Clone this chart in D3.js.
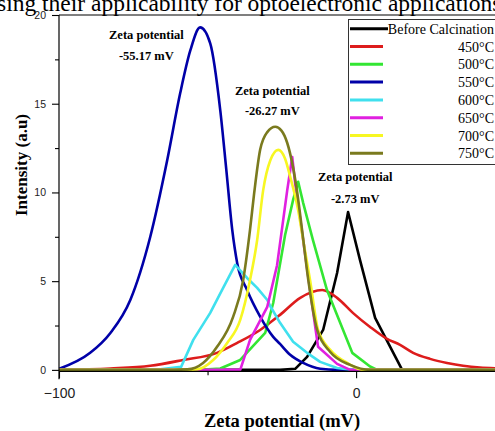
<!DOCTYPE html>
<html>
<head>
<meta charset="utf-8">
<script src="https://cdn.jsdelivr.net/npm/d3@7"></script>
<style>
  html, body { margin: 0; padding: 0; background: #fff; overflow: hidden; }
  svg { display: block; }
</style>
</head>
<body>
<div id="chart"></div>
<script>
// series, [zeta potential (mV), intensity (a.u)]
var seriesNames = ['Before Calcination', '450°C', '500°C', '550°C', '600°C', '650°C', '700°C', '750°C'];
var colors = ['#000000', '#dd1c1c', '#33e633', '#0000a8', '#40e0ee', '#e020e0', '#f7f722', '#7a7a1e'];
var smooth = [false, true, false, true, false, false, true, true];

var before = [[-100, 0], [-39, 0], [-25.6, 0], [-20.5, 0.06], [-16.5, 0.73], [-11.1, 2.25], [-6.4, 5.46],
  [-2.7, 8.9], [1.3, 6.2], [6.4, 2.93], [15.5, 0], [47, 0]];
var c450 = [[-100, 0], [-82.7, 0.08], [-69.3, 0.23], [-58.2, 0.56], [-46.8, 0.96], [-40, 1.52], [-32.3, 2.25],
  [-25.6, 3.1], [-18.8, 4.06], [-11.4, 4.5], [-6.4, 4.06], [-1, 3.2], [4.7, 2.42], [10.4, 1.75], [14.8, 1.41],
  [19.2, 0.96], [24.9, 0.62], [30.6, 0.39], [36, 0.23], [41.7, 0.13], [47, 0.09]];
var c500 = [[-100, 0], [-52.5, 0], [-45.7, 0.08], [-39, 0.56], [-30.6, 2.08], [-27.9, 3.77], [-23.9, 7.6],
  [-21.2, 9.58], [-19.5, 10.6], [-17.8, 9.4], [-14.5, 7.3], [-9.8, 4.5], [-1.3, 0.96], [4.7, 0.19], [7.1, 0], [47, 0]];
var c550 = [[-99.9, 0.06], [-89.5, 0.96], [-82.7, 2.08], [-76, 3.94], [-69.3, 7.49], [-63.6, 11.8], [-59.2, 15.6],
  [-55.8, 18], [-52.5, 19.3], [-49.1, 18.4], [-45.7, 14.6], [-43.7, 11.3], [-41.7, 7.9], [-40, 6], [-36.7, 4.5],
  [-32.3, 3], [-27.9, 1.86], [-25.6, 1.46], [-22.2, 0.85], [-17.8, 0.39], [-12.1, 0.06], [-6.4, 0], [47, 0]];
var c600 = [[-100, 0], [-72.7, 0], [-65.9, 0.03], [-58.9, 0.17], [-54.8, 1.69], [-49.1, 3.21], [-45.1, 4.51],
  [-40.7, 5.92], [-36.7, 5.18], [-33.3, 4.62], [-29.9, 3.94], [-28.9, 3.6], [-25.6, 2.65], [-21.2, 1.58],
  [-16.5, 0.96], [-12.1, 0.45], [-6.4, 0.11], [-1, 0], [47, 0]];
var c650 = [[-100, 0], [-52.5, 0], [-39, 0], [-35.7, 1.69], [-29.9, 3.55], [-26.6, 5.9], [-23.2, 10.1],
  [-21.5, 12], [-20.5, 10.5], [-17.8, 7.3], [-15.5, 4.5], [-12.8, 1.3], [-6.4, 0.34], [-2, 0], [47, 0]];
var c700 = [[-100, 0], [-59.2, 0], [-53.5, 0.03], [-48.1, 0.56], [-43.4, 1.52], [-39, 2.82], [-35.7, 5.07],
  [-33.3, 7.32], [-31.3, 10.1], [-28.9, 11.8], [-26.2, 12.4], [-23.9, 11.9], [-22.2, 10.9], [-19.5, 9],
  [-17.8, 7.3], [-15.5, 5.07], [-12.8, 2.25], [-8.7, 1.13], [-3, 0.39], [2.4, 0], [47, 0]];
var c750 = [[-100, 0], [-65.9, 0], [-56.8, 0.03], [-51.5, 0.39], [-46.8, 1.3], [-41.4, 2.99], [-38, 5.07],
  [-35.7, 7.9], [-34.3, 9.97], [-32.3, 12.4], [-29.9, 13.4], [-27.2, 13.7], [-25.2, 13.5], [-23.2, 12.8],
  [-19.8, 9.97], [-18.2, 7.9], [-16.1, 5.07], [-13.1, 2.25], [-8.7, 1.01], [-2, 0.28], [4.7, 0], [47, 0]];
var allSeries = [before, c450, c500, c550, c600, c650, c700, c750];

var yTicks = [0, 5, 10, 15, 20];
var yMinor = [2.5, 7.5, 12.5, 17.5];
var xTicks = [-100, 0];
var xMinor = [-50];

// annotations: [x, y] in data units
var notes = [
  { lines: ['Zeta potential', '-55.17 mV'], x: -70.6, y: [18.62, 17.45] },
  { lines: ['Zeta potential', '-26.27 mV'], x: -28.2, y: [15.5, 14.35] },
  { lines: ['Zeta potential', '-2.73 mV'], x: -0.3, y: [10.65, 9.42] }
];

var pageText = 'sing their applicability for optoelectronic applications';

var W = 495, H = 431;
var svg = d3.select('#chart').append('svg').attr('width', W).attr('height', H);

var x = d3.scaleLinear().domain([-100, 46.75]).range([59, 495]);
var y = d3.scaleLinear().domain([-0.08, 20]).range([371.3, 15]);

var serif = '"Liberation Serif", "Times New Roman", serif';
var axisFont = '"Liberation Sans", Arial, sans-serif';

// cropped line of page text above the figure
svg.append('text')
  .attr('x', -3).attr('y', 10.5)
  .style('font-family', serif)
  .style('font-size', '23.5px')
  .text(pageText);

// top frame line
svg.append('line')
  .attr('x1', x(-100)).attr('x2', W)
  .attr('y1', y(20)).attr('y2', y(20))
  .attr('stroke', '#000').attr('stroke-width', 1.2);

// curves
var plot = svg.append('g');
allSeries.forEach(function (s, i) {
  var line = d3.line()
    .x(d => x(d[0]))
    .y(d => y(d[1]))
    .curve(smooth[i] ? d3.curveMonotoneX : d3.curveLinear);
  plot.append('path')
    .datum(s)
    .attr('d', line)
    .attr('fill', 'none')
    .attr('stroke', colors[i])
    .attr('stroke-width', 2.6)
    .attr('stroke-linejoin', 'round');
});

// axes
var yAxis = svg.append('g').attr('transform', `translate(${x(-100)},0)`)
  .call(d3.axisLeft(y).tickValues(yTicks).tickSize(7).tickPadding(6).tickFormat(d3.format('d')));
yAxis.selectAll('.tick text').style('font-size', '10.5px');
svg.append('g').attr('transform', `translate(${x(-100)},0)`)
  .call(d3.axisLeft(y).tickValues(yMinor).tickSize(4).tickFormat(''))
  .select('.domain').remove();
var xAxis = svg.append('g').attr('transform', `translate(0,${y(-0.08)})`)
  .call(d3.axisBottom(x).tickValues(xTicks).tickSize(7).tickPadding(10).tickFormat(d3.format('d')));
xAxis.selectAll('.tick text').style('font-size', '14px');
svg.append('g').attr('transform', `translate(0,${y(-0.08)})`)
  .call(d3.axisBottom(x).tickValues(xMinor).tickSize(4).tickFormat(''))
  .select('.domain').remove();

yAxis.select('.domain').attr('d', `M0,${y(20)}V${y(-0.08) + 8}`);
xAxis.select('.domain').attr('d', `M${x(-100)},0H${W}`);
svg.selectAll('.domain').attr('stroke-width', 1.2);
svg.selectAll('.tick line').attr('stroke-width', 1.1);
svg.selectAll('.tick text')
  .style('font-family', axisFont)
  .attr('fill', '#222');

// axis titles
svg.append('text')
  .attr('transform', 'translate(27,165) rotate(-90)')
  .attr('text-anchor', 'middle')
  .style('font-family', serif).style('font-weight', 'bold').style('font-size', '17px')
  .text('Intensity (a.u)');
svg.append('text')
  .attr('x', 282).attr('y', 427)
  .attr('text-anchor', 'middle')
  .style('font-family', serif).style('font-weight', 'bold').style('font-size', '18.5px')
  .text('Zeta potential (mV)');

// annotations
notes.forEach(function (n) {
  n.lines.forEach(function (t, j) {
    svg.append('text')
      .attr('x', x(n.x)).attr('y', y(n.y[j]))
      .attr('text-anchor', 'middle')
      .style('font-family', serif).style('font-weight', 'bold').style('font-size', '12.5px')
      .text(t);
  });
});

// legend
var lg = svg.append('g');
lg.append('rect')
  .attr('x', 348.5).attr('y', 19.5).attr('width', 160).attr('height', 145)
  .attr('fill', '#fff').attr('stroke', '#333').attr('stroke-width', 1);
seriesNames.forEach(function (name, i) {
  var ly = 28.7 + i * 17.8;
  lg.append('line')
    .attr('x1', 350).attr('x2', i === 0 ? 388 : 383)
    .attr('y1', ly).attr('y2', ly)
    .attr('stroke', colors[i]).attr('stroke-width', 3);
  lg.append('text')
    .attr('x', 494).attr('y', ly + 5)
    .attr('text-anchor', 'end')
    .style('font-family', serif).style('font-size', '14px')
    .text(name);
});
</script>
</body>
</html>
